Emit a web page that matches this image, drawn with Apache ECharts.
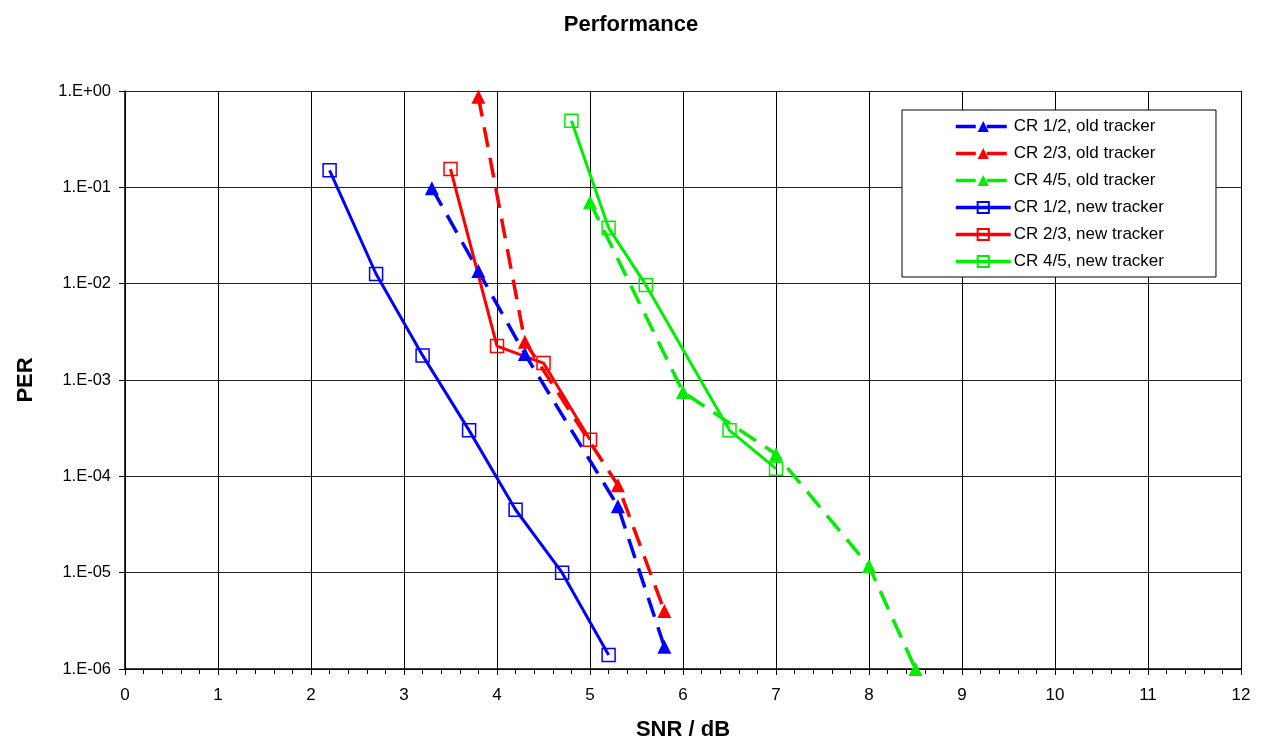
<!DOCTYPE html>
<html>
<head>
<meta charset="utf-8">
<title>Performance</title>
<script src="https://cdn.jsdelivr.net/npm/echarts@6/dist/echarts.min.js"></script>
<style>
  html, body { margin: 0; padding: 0; background: #fff; }
  #chart { width: 1262px; height: 745px; }
</style>
</head>
<body>
<div id="chart"></div>
<script>
// data: [SNR dB, PER]
const cr12Old = [[3.3, 0.098], [3.8, 0.0135], [4.3, 0.00186], [5.3, 4.9e-5], [5.8, 1.7e-6]];
const cr23Old = [[3.8, 0.87], [4.3, 0.0025], [5.3, 8.1e-5], [5.8, 4.0e-6]];
const cr45Old = [[5.0, 0.07], [6.0, 7.5e-4], [7.0, 1.7e-4], [8.0, 1.17e-5], [8.5, 1.0e-6]];
const cr12New = [[2.2, 0.15], [2.7, 0.0126], [3.2, 0.0018], [3.7, 3.0e-4], [4.2, 4.5e-5], [4.7, 1.0e-5], [5.2, 1.4e-6]];
const cr23New = [[3.5, 0.155], [4.0, 0.00225], [4.5, 0.0015], [5.0, 2.4e-4]];
const cr45New = [[4.8, 0.49], [5.2, 0.038], [5.6, 0.0097], [6.5, 3.0e-4], [7.0, 1.2e-4]];

const seriesNames = [
  'CR 1/2, old tracker', 'CR 2/3, old tracker', 'CR 4/5, old tracker',
  'CR 1/2, new tracker', 'CR 2/3, new tracker', 'CR 4/5, new tracker'
];

const chart = echarts.init(document.getElementById('chart'));
const font = 'Liberation Sans, Arial, sans-serif';

// old tracker -> dashed line + filled triangle
const oldLine = (name, data, color) => ({
  name: name,
  type: 'line',
  data: data,
  symbol: 'triangle',
  symbolSize: 14,
  itemStyle: { color: color },
  lineStyle: { color: color, width: 3.5, type: [20, 11] },
  animation: false,
  z: 3
});
// new tracker -> solid line + hollow square
const newLine = (name, data, color) => ({
  name: name,
  type: 'line',
  data: data,
  symbol: 'rect',
  symbolSize: 13,
  itemStyle: { color: 'rgba(255,255,255,0)', borderColor: color, borderWidth: 1.5 },
  lineStyle: { color: color, width: 3 },
  animation: false,
  z: 3
});

const fmtExp = (v) => {
  const e = Math.round(Math.log10(v));
  const sign = e < 0 ? '-' : '+';
  const abs = Math.abs(e);
  return '1.E' + sign + (abs < 10 ? '0' + abs : abs);
};

const option = {
  backgroundColor: '#fff',
  textStyle: { fontFamily: font },
  title: {
    text: 'Performance',
    left: 'center',
    top: 9,
    textStyle: { fontSize: 22, fontWeight: 'bold', color: '#000', fontFamily: font }
  },
  legend: {
    orient: 'vertical',
    left: 902,
    top: 110,
    data: seriesNames,
    backgroundColor: '#fff',
    borderColor: '#000',
    borderWidth: 1,
    padding: [8, 52, 7, 52],
    itemWidth: 55,
    itemHeight: 14,
    itemGap: 10,
    lineStyle: { width: 3.5 },
    textStyle: { fontSize: 17, color: '#000', fontFamily: font, padding: [0, 0, 0, -2] }
  },
  grid: { left: 125, right: 21, top: 91, bottom: 76, containLabel: false, outerBoundsMode: 'none' },
  xAxis: {
    type: 'value',
    min: 0,
    max: 12,
    interval: 1,
    name: 'SNR / dB',
    nameLocation: 'middle',
    nameGap: 50,
    nameTextStyle: { fontSize: 22, fontWeight: 'bold', color: '#000' },
    axisLine: { show: true, lineStyle: { color: '#000', width: 1.5 } },
    axisTick: { show: true, length: 6, lineStyle: { color: '#000' } },
    minorTick: { show: true, splitNumber: 5, length: 5, lineStyle: { color: '#000' } },
    axisLabel: { fontSize: 17, color: '#000', margin: 18 },
    splitLine: { show: true, lineStyle: { color: '#000', width: 1 } }
  },
  yAxis: {
    type: 'log',
    logBase: 10,
    min: 1e-6,
    max: 1,
    name: 'PER',
    nameLocation: 'middle',
    nameGap: 88,
    nameTextStyle: { fontSize: 22, fontWeight: 'bold', color: '#000' },
    axisLine: { show: true, lineStyle: { color: '#000', width: 1.5 } },
    axisTick: { show: true, length: 6, lineStyle: { color: '#000' } },
    axisLabel: { fontSize: 16.5, color: '#000', margin: 14, formatter: fmtExp },
    splitLine: { show: true, lineStyle: { color: '#222', width: 1 } }
  },
  series: [
    oldLine(seriesNames[0], cr12Old, '#0000FF'),
    oldLine(seriesNames[1], cr23Old, '#FF0000'),
    oldLine(seriesNames[2], cr45Old, '#00EE00'),
    newLine(seriesNames[3], cr12New, '#0000FF'),
    newLine(seriesNames[4], cr23New, '#FF0000'),
    newLine(seriesNames[5], cr45New, '#00EE00')
  ]
};

chart.setOption(option);
</script>
</body>
</html>
